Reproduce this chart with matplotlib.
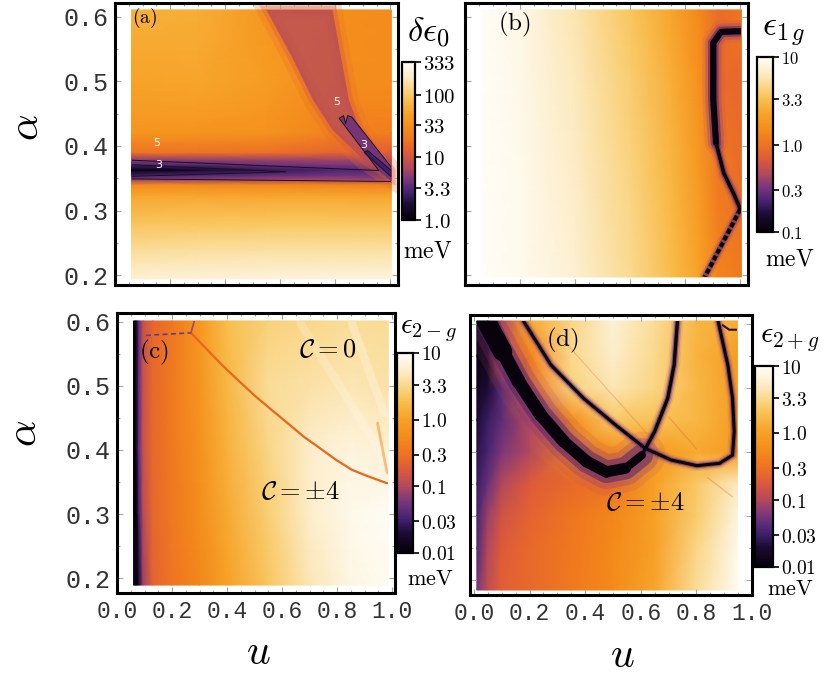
import numpy as np
import matplotlib
matplotlib.use("Agg")
import matplotlib.pyplot as plt
from matplotlib.colors import LinearSegmentedColormap, Normalize
from matplotlib.cm import ScalarMappable
from matplotlib.patches import Rectangle
from matplotlib.ticker import MultipleLocator

plt.rcParams["mathtext.fontset"] = "cm"

W, H = 830, 676

# sunset-like colour scale (black -> purple -> orange -> white)
cm_pos = [0, 0.1, 0.17, 0.25, 0.33, 0.42, 0.5, 0.58, 0.67, 0.76, 0.84, 0.92, 1.0]
cm_col = ["#050008", "#1c0c34", "#42226e", "#74357e", "#b0485e", "#de5a3a",
          "#ef7421", "#f48b1a", "#f7a126", "#f8bf4e", "#fad98e", "#fdefcf", "#fffdf6"]
sunset = LinearSegmentedColormap.from_list("sunset", list(zip(cm_pos, cm_col)))

u_ticks = [0.0, 0.2, 0.4, 0.6, 0.8, 1.0]
alpha_ticks = [0.2, 0.3, 0.4, 0.5, 0.6]

# ---------- (a) delta eps_0 [meV] ----------
a_u = [0.06, 0.3, 0.55, 0.8, 1.004]
a_alpha = [0.194, 0.24, 0.28, 0.32, 0.34, 0.349, 0.355, 0.363, 0.371, 0.378, 0.39, 0.42, 0.5, 0.611]
a_val = [
    [220, 230, 240, 245, 250],
    [140, 145, 150, 150, 150],
    [90, 92, 95, 95, 95],
    [58, 58, 58, 58, 56],
    [29, 28, 27, 26, 25],
    [5, 5, 5.5, 6, 5],
    [2.5, 3, 3.5, 4, 4],
    [1.0, 1.5, 2.3, 3.0, 3.2],
    [3, 3.3, 4, 4.5, 4.5],
    [5, 5.2, 5.5, 6, 6],
    [18, 18, 17, 14, 12],
    [36, 36, 34, 25, 22],
    [50, 52, 44, 30, 30],
    [65, 60, 38, 32, 30],
]
a_ridge_left_u = [0.55, 0.64, 0.72, 0.79, 0.905, 1.004]
a_ridge_left_al = [0.611, 0.54, 0.471, 0.425, 0.378, 0.35]
a_ridge_right_u = [0.79, 0.82, 0.85, 0.89, 0.975, 1.004]
a_ridge_right_al = [0.611, 0.54, 0.471, 0.425, 0.378, 0.362]
a_c5_upper_u = [0.06, 0.958, 0.814, 0.83, 0.838, 0.845, 0.86, 1.004]
a_c5_upper_al = [0.378, 0.362, 0.443, 0.447, 0.435, 0.447, 0.445, 0.367]
a_c5_lower_u = [0.06, 1.004]
a_c5_lower_al = [0.349, 0.345]
a_c3_left_u = [0.06, 0.621, 0.06]
a_c3_left_al = [0.371, 0.360, 0.353]
a_c3_diag_u = [1.004, 0.905, 0.918, 1.004]
a_c3_diag_al = [0.352, 0.390, 0.393, 0.362]
a_cb_ticks = [333, 100, 33, 10, 3.3, 1.0]
a_cb_labels = ["333", "100", "33", "10", "3.3", "1.0"]

# ---------- (b) eps_1g [meV] ----------
b_u = [0.063, 0.2, 0.4, 0.6, 0.75, 0.85, 0.92, 1.004]
b_alpha = [0.197, 0.35, 0.5, 0.611]
b_val = [
    [10, 9.2, 7.0, 4.8, 3.2, 2.2, 1.3, 1.1],
    [10, 9.0, 6.6, 4.4, 2.9, 1.9, 1.1, 0.9],
    [10, 8.8, 6.2, 4.0, 2.6, 1.6, 0.9, 0.85],
    [10, 8.6, 5.8, 3.6, 2.3, 1.4, 0.9, 1.0],
]
b_loop_u = [1.004, 0.93, 0.902, 0.902, 0.912, 0.94, 0.975, 1.0]
b_loop_al = [0.578, 0.577, 0.56, 0.471, 0.405, 0.358, 0.327, 0.302]
b_chain_u = [1.0, 0.871]
b_chain_al = [0.302, 0.197]
b_cb_ticks = [10, 3.3, 1.0, 0.3, 0.1]
b_cb_labels = ["10", "3.3", "1.0", "0.3", "0.1"]

# ---------- (c) eps_2-g [meV] ----------
c_u = [0.06, 0.066, 0.072, 0.08, 0.095, 0.13, 0.2, 0.3, 0.4, 0.55, 0.7, 0.85, 0.986]
c_alpha = [0.189, 0.3, 0.4, 0.5, 0.6016]
c_val = [
    [0.02, 0.012, 0.01, 0.02, 0.08, 0.22, 0.32, 0.5, 1.0, 2.2, 4.5, 7.5, 9.0],
    [0.015, 0.01, 0.012, 0.035, 0.11, 0.24, 0.35, 0.6, 1.2, 2.6, 5.5, 8.5, 9.5],
    [0.012, 0.01, 0.02, 0.05, 0.13, 0.25, 0.36, 0.65, 1.4, 3.0, 5.5, 7.0, 6.0],
    [0.012, 0.01, 0.02, 0.05, 0.13, 0.25, 0.36, 0.7, 1.6, 3.5, 4.0, 4.5, 4.0],
    [0.012, 0.01, 0.02, 0.05, 0.13, 0.24, 0.34, 0.75, 1.8, 2.8, 3.2, 3.6, 3.4],
]
c_line_u = [0.269, 0.327, 0.386, 0.445, 0.503, 0.561, 0.620, 0.678, 0.737, 0.795, 0.854, 0.912, 0.982]
c_line_al = [0.583, 0.557, 0.531, 0.507, 0.484, 0.463, 0.442, 0.421, 0.403, 0.385, 0.369, 0.359, 0.348]
c_dash_u = [0.105, 0.269, 0.281]
c_dash_al = [0.579, 0.583, 0.6016]
c_cb_ticks = [10, 3.3, 1.0, 0.3, 0.1, 0.03, 0.01]
c_cb_labels = ["10", "3.3", "1.0", "0.3", "0.1", "0.03", "0.01"]

# ---------- (d) eps_2+g [meV] ----------
d_u = [0.0105, 0.05, 0.1, 0.2, 0.35, 0.5, 0.65, 0.8, 0.9476]
d_alpha = [0.1844, 0.25, 0.3, 0.35, 0.4, 0.45, 0.5, 0.55, 0.6047]
d_val = [
    [0.06, 0.12, 0.2, 0.25, 0.36, 0.55, 1.1, 3.5, 9.0],
    [0.04, 0.1, 0.18, 0.25, 0.35, 0.52, 1.0, 3.0, 8.5],
    [0.035, 0.08, 0.15, 0.22, 0.32, 0.5, 1.0, 2.5, 7.0],
    [0.03, 0.05, 0.1, 0.18, 0.25, 0.3, 1.0, 2.3, 5.0],
    [0.025, 0.035, 0.06, 0.1, 0.5, 0.6, 0.8, 1.2, 0.9],
    [0.02, 0.03, 0.045, 0.1, 0.6, 2.3, 2.0, 1.6, 0.9],
    [0.015, 0.02, 0.04, 0.35, 2.8, 4.5, 3.0, 1.6, 0.9],
    [0.012, 0.015, 0.25, 0.45, 3.3, 5.5, 3.3, 1.5, 0.9],
    [0.01, 0.01, 0.12, 1.2, 3.0, 6.0, 3.5, 1.6, 1.3],
]
d_A_thick_u = [0.044, 0.103, 0.161, 0.24, 0.324, 0.406, 0.476, 0.545, 0.604]
d_A_thick_al = [0.6047, 0.557, 0.51, 0.458, 0.416, 0.385, 0.369, 0.3745, 0.395]
d_A_thick_w = [14, 10, 9.5, 9, 8.5, 8.5, 8, 6]
d_A_thin_u = [0.604, 0.650, 0.697, 0.72, 0.732]
d_A_thin_al = [0.395, 0.432, 0.484, 0.536, 0.6047]
d_B_u = [0.178, 0.277, 0.394, 0.510, 0.615, 0.709, 0.802, 0.883, 0.930, 0.936, 0.930, 0.913, 0.889, 0.878]
d_B_al = [0.6047, 0.536, 0.484, 0.442, 0.406, 0.3875, 0.3786, 0.3823, 0.395, 0.432, 0.484, 0.536, 0.583, 0.6047]
d_arc_u = [0.895, 0.918, 0.9476]
d_arc_al = [0.598, 0.591, 0.591]

GLOW = [("#b44a62", 3.6, 0.14), ("#7a3088", 2.6, 0.25), ("#4a1c70", 1.7, 0.5)]


def px_box(l, t, r, b):
    return [l / W, 1 - b / H, (r - l) / W, (b - t) / H]


def tone(v, lo, hi):
    return sunset((np.log10(v) - np.log10(lo)) / (np.log10(hi) - np.log10(lo)))


def field(ax, u, al, vals, lo, hi):
    U, A = np.meshgrid(u, al)
    ax.pcolormesh(U, A, np.log10(np.array(vals, dtype=float)), shading="gouraud",
                  cmap=sunset, norm=Normalize(np.log10(lo), np.log10(hi)))
    return Rectangle((u[0], al[0]), u[-1] - u[0], al[-1] - al[0], transform=ax.transData)


def frame(ax, xlim, ylim, xlab, ylab):
    ax.set_xlim(*xlim)
    ax.set_ylim(*ylim)
    ax.set_xticks(u_ticks)
    ax.set_yticks(alpha_ticks)
    ax.xaxis.set_minor_locator(MultipleLocator(0.05))
    ax.yaxis.set_minor_locator(MultipleLocator(0.05))
    ax.tick_params(which="both", direction="in", top=True, right=True,
                   color="0.65", width=0.8, length=4, labelcolor="#333")
    ax.tick_params(which="minor", length=2.5)
    ax.tick_params(axis="x", pad=5)
    ax.tick_params(axis="y", pad=5)
    for s in ax.spines.values():
        s.set_linewidth(2.2)
    if xlab:
        ax.set_xticklabels(["%.1f" % v for v in u_ticks], fontfamily="Liberation Mono", fontsize=16.5)
    else:
        ax.set_xticklabels([])
    if ylab:
        ax.set_yticklabels(["%.1f" % v for v in alpha_ticks], fontfamily="Liberation Mono", fontsize=18)
    else:
        ax.set_yticklabels([])


def cbar(box, lo, hi, ticks, labels, fs):
    cax = fig.add_axes(px_box(*box))
    sm = ScalarMappable(norm=Normalize(np.log10(lo), np.log10(hi)), cmap=sunset)
    cb = fig.colorbar(sm, cax=cax, ticks=np.log10(ticks))
    cb.ax.set_yticklabels(["$%s$" % s for s in labels], fontsize=fs)
    cb.outline.set_linewidth(1.6)
    cb.ax.tick_params(length=4, width=1.2, pad=1.5)


def ftext(x, y, s, fs, **kw):
    fig.text(x / W, 1 - y / H, s, fontsize=fs, ha="center", va="center", **kw)


def line(ax, clip, u, al, **kw):
    for ln in ax.plot(u, al, solid_capstyle="round", solid_joinstyle="round", **kw):
        ln.set_clip_path(clip)


def glow(ax, clip, u, al, w):
    for c, f, a in GLOW:
        line(ax, clip, u, al, color=c, lw=w * f, alpha=a)


fig = plt.figure(figsize=(W / 100, H / 100), dpi=100)

# ----- panel (a)
ax_a = fig.add_axes(px_box(115, 3, 398, 285))
clip = field(ax_a, a_u, a_alpha, a_val, 1.0, 333)
rid_u = a_ridge_left_u + a_ridge_right_u[::-1]
rid_al = a_ridge_left_al + a_ridge_right_al[::-1]
ax_a.fill(rid_u, rid_al, facecolor="none", edgecolor=tone(16, 1, 333), alpha=0.25, lw=14, clip_path=clip)
ax_a.fill(rid_u, rid_al, facecolor="none", edgecolor=tone(11, 1, 333), alpha=0.35, lw=6, clip_path=clip)
ax_a.fill(rid_u, rid_al, color=tone(7.5, 1, 333), alpha=0.8, lw=0, clip_path=clip)
w_u = a_c5_upper_u[1:] + [1.004]
w_al = a_c5_upper_al[1:] + [0.345]
ax_a.fill(w_u, w_al, color=tone(4.0, 1, 333), lw=0, alpha=0.9)
ax_a.fill(a_c3_diag_u, a_c3_diag_al, color=tone(2.6, 1, 333), lw=0)
for cu, ca in [(a_c5_upper_u, a_c5_upper_al), (a_c5_lower_u, a_c5_lower_al),
               (a_c3_left_u, a_c3_left_al), (a_c3_diag_u, a_c3_diag_al)]:
    line(ax_a, clip, cu, ca, color="#1a1020", lw=0.7)
for tx, ty, s in [(0.151, 0.405, "5"), (0.158, 0.371, "3"), (0.807, 0.468, "5"), (0.905, 0.402, "3")]:
    ax_a.text(tx, ty, s, color="white", fontsize=8, ha="center", va="center")
ax_a.text(0.106, 0.598, r"$(\mathrm{a})$", fontsize=14, ha="center", va="center")
frame(ax_a, (0.035, 1.028), (0.1845, 0.6217), False, True)
cbar((402, 62, 415, 220), 1.0, 333, a_cb_ticks, a_cb_labels, 15)
ftext(428, 33, r"$\delta\epsilon_0$", 25)
ftext(428, 250, r"$\mathrm{meV}$", 17)

# ----- panel (b)
ax_b = fig.add_axes(px_box(465, 3, 748, 285))
clip = field(ax_b, b_u, b_alpha, b_val, 0.1, 10)
glow(ax_b, clip, b_loop_u[:5], b_loop_al[:5], 4.5)
glow(ax_b, clip, b_loop_u[4:], b_loop_al[4:], 2.6)
glow(ax_b, clip, b_chain_u, b_chain_al, 2.4)
line(ax_b, clip, b_loop_u[:5], b_loop_al[:5], color="#07020c", lw=4.5)
line(ax_b, clip, b_loop_u[4:], b_loop_al[4:], color="#07020c", lw=2.6)
line(ax_b, clip, b_chain_u, b_chain_al, color="black", lw=3, dashes=(1.2, 0.6))
ax_b.text(0.18, 0.588, r"$(\mathrm{b})$", fontsize=18, ha="center", va="center")
frame(ax_b, (0.035, 1.028), (0.1845, 0.6217), False, False)
cbar((757, 57, 773, 232), 0.1, 10, b_cb_ticks, b_cb_labels, 12)
ftext(784, 32, r"$\epsilon_{1\,g}$", 25)
ftext(790, 259, r"$\mathrm{meV}$", 17)

# ----- panel (c)
ax_c = fig.add_axes(px_box(117, 313, 395, 593))
clip = field(ax_c, c_u, c_alpha, c_val, 0.01, 10)
line(ax_c, clip, [0.667, 0.982], [0.598, 0.38], color="white", lw=6, alpha=0.2)
line(ax_c, clip, [0.854, 0.971], [0.598, 0.458], color="white", lw=6, alpha=0.25)
line(ax_c, clip, [0.947, 0.982], [0.442, 0.364], color="#f08a20", lw=2, alpha=0.5)
line(ax_c, clip, c_line_u, c_line_al, color="#e8661e", lw=1.6)
line(ax_c, clip, c_dash_u[:2], c_dash_al[:2], color="#6a3a8a", lw=1.2, dashes=(3, 2))
line(ax_c, clip, c_dash_u[1:], c_dash_al[1:], color="#a04a6a", lw=1.2)
ax_c.text(0.133, 0.553, r"$(\mathrm{c})$", fontsize=18, ha="center", va="center")
ax_c.text(0.765, 0.556, r"$\mathcal{C}=0$", fontsize=19, ha="center", va="center")
ax_c.text(0.667, 0.334, r"$\mathcal{C}=\pm4$", fontsize=19, ha="center", va="center")
frame(ax_c, (0.035, 1.0105), (0.1766, 0.614), True, True)
cbar((397, 353, 413, 553), 0.01, 10, c_cb_ticks, c_cb_labels, 14)
ftext(428, 330, r"$\epsilon_{2-g}$", 21)
ftext(430, 579, r"$\mathrm{meV}$", 16)

# ----- panel (d)
ax_d = fig.add_axes(px_box(470, 315, 752, 595))
clip = field(ax_d, d_u, d_alpha, d_val, 0.01, 10)
line(ax_d, clip, [0.30, 0.62], [0.585, 0.43], color="#d8603a", lw=0.8, alpha=0.3)
line(ax_d, clip, [0.70, 0.80], [0.455, 0.405], color="#d8603a", lw=0.9, alpha=0.35)
line(ax_d, clip, [0.84, 0.93], [0.36, 0.33], color="#d8603a", lw=0.9, alpha=0.35)
glow(ax_d, clip, d_A_thick_u, d_A_thick_al, 9.5)
glow(ax_d, clip, d_A_thin_u, d_A_thin_al, 2.4)
glow(ax_d, clip, d_B_u, d_B_al, 2.2)
for i, w in enumerate(d_A_thick_w):
    line(ax_d, clip, d_A_thick_u[i:i + 2], d_A_thick_al[i:i + 2], color="#07020c", lw=w)
line(ax_d, clip, d_A_thin_u, d_A_thin_al, color="#07020c", lw=2.4)
line(ax_d, clip, d_B_u, d_B_al, color="#07020c", lw=2.2)
line(ax_d, clip, d_arc_u, d_arc_al, color="#2a1030", lw=1.5)
ax_d.text(0.32, 0.575, r"$(\mathrm{d})$", fontsize=18, ha="center", va="center")
ax_d.text(0.615, 0.32, r"$\mathcal{C}=\pm4$", fontsize=19, ha="center", va="center")
frame(ax_d, (-0.014, 0.972), (0.1766, 0.614), True, False)
cbar((755, 366, 773, 567), 0.01, 10, c_cb_ticks, c_cb_labels, 14)
ftext(790, 339, r"$\epsilon_{2+g}$", 22)
ftext(790, 589, r"$\mathrm{meV}$", 16)

# axis titles
ftext(26, 127, r"$\alpha$", 30, rotation=90)
ftext(24, 433, r"$\alpha$", 30, rotation=90)
ftext(258, 652, r"$u$", 30)
ftext(622, 655, r"$u$", 30)

fig.savefig("out.png", dpi=100)
